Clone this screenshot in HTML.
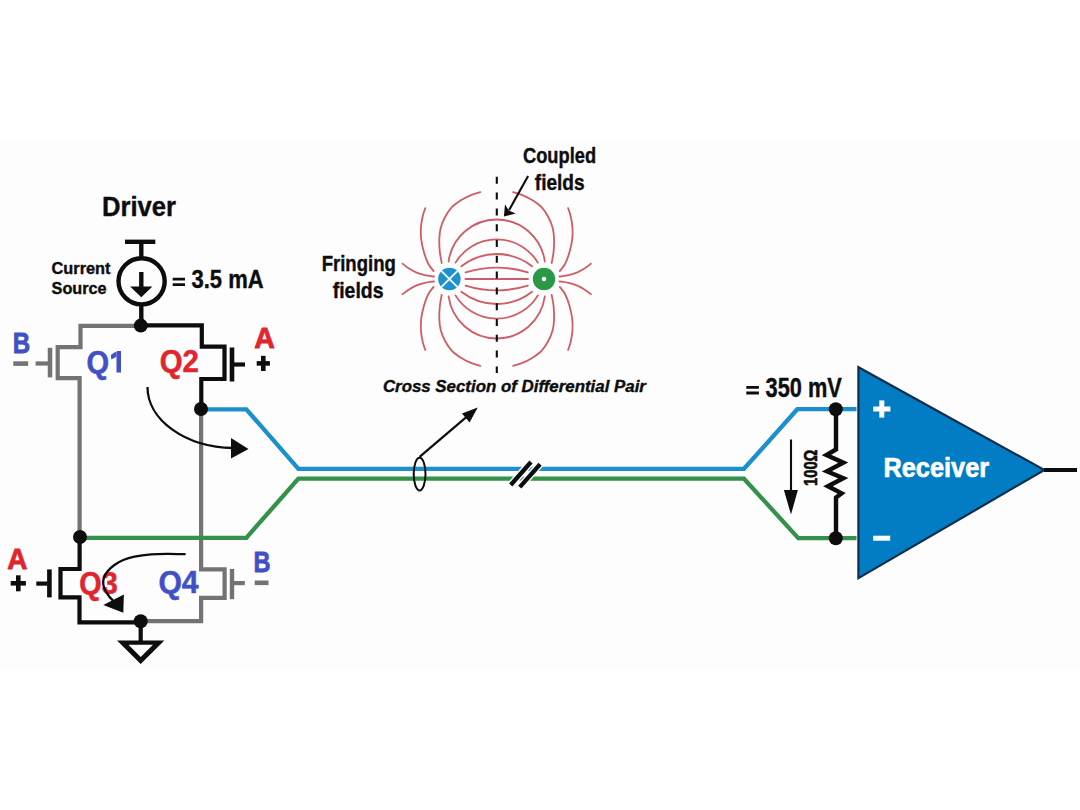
<!DOCTYPE html>
<html><head><meta charset="utf-8"><style>html,body{margin:0;padding:0;background:#fff;width:1080px;height:810px;overflow:hidden}svg{display:block}</style></head>
<body><svg width="1080" height="810" viewBox="0 0 1080 810">
<rect x="0" y="0" width="1080" height="810" fill="#ffffff"/>
<rect x="0" y="139" width="1080" height="531" fill="#fdfdfd"/>
<text x="101.9" y="215.9" font-family='"Liberation Sans", sans-serif' font-size="27" font-weight="bold" font-style="normal" fill="#0d0d0d" textLength="74.1" lengthAdjust="spacingAndGlyphs" stroke="#0d0d0d" stroke-width="0.4" stroke-linejoin="round" text-anchor="start" id="t_driver">Driver</text>
<text x="51.6" y="274.2" font-family='"Liberation Sans", sans-serif' font-size="16.8" font-weight="bold" font-style="normal" fill="#0d0d0d" textLength="58.9" lengthAdjust="spacingAndGlyphs" stroke="#0d0d0d" stroke-width="0.4" stroke-linejoin="round" text-anchor="start" id="t_current">Current</text>
<text x="51.6" y="294.2" font-family='"Liberation Sans", sans-serif' font-size="16.8" font-weight="bold" font-style="normal" fill="#0d0d0d" textLength="55" lengthAdjust="spacingAndGlyphs" stroke="#0d0d0d" stroke-width="0.4" stroke-linejoin="round" text-anchor="start" id="t_source">Source</text>
<path fill="#0d0d0d" d="M172.7,277.7 h12.3 v2.9 h-12.3 Z M172.7,283.2 h12.3 v2.9 h-12.3 Z"/>
<text x="191.5" y="288" font-family='"Liberation Sans", sans-serif' font-size="25.8" font-weight="bold" font-style="normal" fill="#0d0d0d" textLength="72.1" lengthAdjust="spacingAndGlyphs" stroke="#0d0d0d" stroke-width="0.4" stroke-linejoin="round" text-anchor="start" id="t_eq35">3.5 mA</text>
<g stroke="#0d0d0d" fill="none" stroke-width="4.4">
<line x1="125" y1="241.8" x2="155.3" y2="241.8"/>
<line x1="141.3" y1="241.8" x2="141.3" y2="259"/>
<circle cx="141.6" cy="281.3" r="23.1"/>
<line x1="141.3" y1="272" x2="141.3" y2="288"/>
<line x1="141.3" y1="303" x2="141.3" y2="326"/>
</g>
<polygon points="130.1,286.4 152.4,286.4 141.3,297.3" fill="#0d0d0d"/>
<g fill="none" stroke-linejoin="miter" stroke-linecap="butt" stroke-width="4.2">
<path stroke="#737373" d="M141,325.8 H80.5 V347.2 H57.7 V378.2 H79.6 V537"/>
<line stroke="#737373" x1="50" y1="347.8" x2="50" y2="377.4" stroke-width="4.5"/>
<line stroke="#737373" x1="35.6" y1="363.5" x2="48" y2="363.5"/>
<line stroke="#737373" x1="13.3" y1="363.6" x2="28.2" y2="363.6" stroke-width="4.6"/>
<path stroke="#0d0d0d" d="M141,325.3 H201.8 V346.6 H224.5 V379 H201.3 V409"/>
<line stroke="#0d0d0d" x1="232" y1="347.5" x2="232" y2="381.5" stroke-width="4.6"/>
<line stroke="#0d0d0d" x1="234" y1="364.5" x2="245" y2="364.5"/>
<line stroke="#0d0d0d" x1="256.7" y1="363.4" x2="269.9" y2="363.4" stroke-width="4.6"/>
<line stroke="#0d0d0d" x1="263.3" y1="355.8" x2="263.3" y2="371" stroke-width="4.6"/>
<path stroke="#737373" d="M201.1,409 V569.4 H224.6 V597.9 H201.1 V621.2 H141"/>
<line stroke="#737373" x1="232" y1="568.9" x2="232" y2="599.2" stroke-width="4.4"/>
<line stroke="#737373" x1="234" y1="583.1" x2="244.8" y2="583.1"/>
<line stroke="#737373" x1="254.7" y1="582.8" x2="268.5" y2="582.8" stroke-width="4.6"/>
<path stroke="#0d0d0d" d="M79.6,537 V569 H60.5 V597.4 H79.5 V622.3 H141"/>
<line stroke="#0d0d0d" x1="49.4" y1="569.4" x2="49.4" y2="597.4" stroke-width="4.6"/>
<line stroke="#0d0d0d" x1="36.3" y1="583.6" x2="47.5" y2="583.6"/>
<line stroke="#0d0d0d" x1="10.7" y1="583.3" x2="25.9" y2="583.3" stroke-width="4.6"/>
<line stroke="#0d0d0d" x1="18.3" y1="575.3" x2="18.3" y2="591.3" stroke-width="4.6"/>
<line stroke="#0d0d0d" x1="140.7" y1="621" x2="140.7" y2="642"/>
</g>
<path fill="#0d0d0d" fill-rule="evenodd" d="M117,640.4 H164.4 L140.7,664 Z M128.5,644.8 L140.7,657 L153,644.8 Z"/>
<g fill="none" stroke-width="4.3" stroke-linejoin="miter">
<path stroke="#1c8fcd" d="M201,409.3 H246.3 L298.4,468.8 H744 L797.3,409.2 H856.5"/>
<path stroke="#33914a" d="M80,537.8 H246.3 L298.4,478.7 H744 L798.3,538.2 H856.5"/>
</g>
<circle cx="140.8" cy="325.6" r="7" fill="#0d0d0d"/>
<circle cx="201" cy="409" r="7" fill="#0d0d0d"/>
<circle cx="80" cy="537" r="7" fill="#0d0d0d"/>
<circle cx="140.7" cy="621.3" r="7" fill="#0d0d0d"/>
<circle cx="835.8" cy="409.2" r="7" fill="#0d0d0d"/>
<circle cx="835.8" cy="538.3" r="7" fill="#0d0d0d"/>
<text x="12.8" y="353" font-family='"Liberation Sans", sans-serif' font-size="29" font-weight="bold" font-style="normal" fill="#4150c7" textLength="17.4" lengthAdjust="spacingAndGlyphs" stroke="#4150c7" stroke-width="0.8" stroke-linejoin="round" text-anchor="start" id="t_B1">B</text>
<text x="86.4" y="372.6" font-family='"Liberation Sans", sans-serif' font-size="30.5" font-weight="bold" font-style="normal" fill="#4150c7" textLength="22.6" lengthAdjust="spacingAndGlyphs" stroke="#4150c7" stroke-width="0.5" stroke-linejoin="round" text-anchor="start" id="t_Q1">Q</text>
<path id="t_one" fill="#4150c7" d="M116.5,372.6 V351 H121 V372.6 Z M116.8,351 L110.8,355.1 L111.4,359.6 L116.8,356.4 Z"/>
<text x="159.7" y="371.9" font-family='"Liberation Sans", sans-serif' font-size="30.5" font-weight="bold" font-style="normal" fill="#e0252f" textLength="39.2" lengthAdjust="spacingAndGlyphs" stroke="#e0252f" stroke-width="0.5" stroke-linejoin="round" text-anchor="start" id="t_Q2">Q2</text>
<text x="254.2" y="348.1" font-family='"Liberation Sans", sans-serif' font-size="30" font-weight="bold" font-style="normal" fill="#e0252f" textLength="20.6" lengthAdjust="spacingAndGlyphs" stroke="#e0252f" stroke-width="0.8" stroke-linejoin="round" text-anchor="start" id="t_A1">A</text>
<text x="7.2" y="568.8" font-family='"Liberation Sans", sans-serif' font-size="30" font-weight="bold" font-style="normal" fill="#e0252f" textLength="20.2" lengthAdjust="spacingAndGlyphs" stroke="#e0252f" stroke-width="0.8" stroke-linejoin="round" text-anchor="start" id="t_A2">A</text>
<text x="79.3" y="593.8" font-family='"Liberation Sans", sans-serif' font-size="30.5" font-weight="bold" font-style="normal" fill="#e0252f" textLength="38.4" lengthAdjust="spacingAndGlyphs" stroke="#e0252f" stroke-width="0.5" stroke-linejoin="round" text-anchor="start" id="t_Q3">Q3</text>
<text x="158.4" y="593.4" font-family='"Liberation Sans", sans-serif' font-size="30.5" font-weight="bold" font-style="normal" fill="#4150c7" textLength="40.2" lengthAdjust="spacingAndGlyphs" stroke="#4150c7" stroke-width="0.5" stroke-linejoin="round" text-anchor="start" id="t_Q4">Q4</text>
<text x="253.6" y="572.1" font-family='"Liberation Sans", sans-serif' font-size="29" font-weight="bold" font-style="normal" fill="#4150c7" textLength="17" lengthAdjust="spacingAndGlyphs" stroke="#4150c7" stroke-width="0.8" stroke-linejoin="round" text-anchor="start" id="t_B2">B</text>
<path fill="none" stroke="#0d0d0d" stroke-width="2.3" d="M147.5,387 A87.5,61 0 0 0 233,448"/>
<polygon fill="#0d0d0d" points="231,438 231,458.5 248.5,449"/>
<path fill="none" stroke="#0d0d0d" stroke-width="2.3" d="M185.6,554.2 C182.63,554.15 173.55,553.87 167.8,553.9 C162.05,553.93 156.67,553.93 151.1,554.4 C145.53,554.87 139.03,555.77 134.4,556.7 C129.77,557.63 126.63,558.62 123.3,560 C119.97,561.38 116.98,563.15 114.4,565 C111.82,566.85 109.55,568.97 107.8,571.1 C106.05,573.23 104.65,575.58 103.9,577.8 C103.15,580.02 103.02,582.18 103.3,584.4 C103.58,586.62 104.58,589.05 105.6,591.1 C106.62,593.15 108.17,595.13 109.4,596.7 C110.63,598.27 112.4,599.87 113,600.5"/>
<polygon fill="#0d0d0d" points="103.3,605 123.9,594.4 123.3,612.8"/>
<g fill="none" stroke="#cf5c66" stroke-width="1.8" stroke-linecap="round"><path d="M465.62,272.42 A104.65,104.65 0 0 1 527.78,272.42"/><path d="M465.62,285.58 A104.65,104.65 0 0 0 527.78,285.58"/><path d="M461.35,266.22 A57.25,57.25 0 0 1 532.05,266.22"/><path d="M461.35,291.78 A57.25,57.25 0 0 0 532.05,291.78"/><path d="M455.52,262.61 A48.03,48.03 0 0 1 537.88,262.61"/><path d="M455.52,295.39 A48.03,48.03 0 0 0 537.88,295.39"/><path d="M448.59,261.52 A48.55,48.55 0 0 1 544.81,261.52"/><path d="M448.59,296.48 A48.55,48.55 0 0 0 544.81,296.48"/><line x1="465.4" y1="279.0" x2="528" y2="279.0"/><path d="M433.95,276.5 C432.41,276.27 427.69,275.8 424.7,275.1 C421.71,274.4 418.68,273.43 416,272.3 C413.32,271.17 410.85,269.73 408.6,268.3 C406.35,266.87 403.52,264.47 402.5,263.7"/><path d="M433.95,281.5 C432.41,281.73 427.69,282.2 424.7,282.9 C421.71,283.6 418.68,284.57 416,285.7 C413.32,286.83 410.85,288.27 408.6,289.7 C406.35,291.13 403.52,293.53 402.5,294.3"/><path d="M559.45,276.5 C560.99,276.27 565.71,275.8 568.7,275.1 C571.69,274.4 574.72,273.43 577.4,272.3 C580.08,271.17 582.55,269.73 584.8,268.3 C587.05,266.87 589.88,264.47 590.9,263.7"/><path d="M559.45,281.5 C560.99,281.73 565.71,282.2 568.7,282.9 C571.69,283.6 574.72,284.57 577.4,285.7 C580.08,286.83 582.55,288.27 584.8,289.7 C587.05,291.13 589.88,293.53 590.9,294.3"/><path d="M433.6,271.1 C432.73,269.92 429.98,267.05 428.4,264 C426.82,260.95 425.3,256.92 424.1,252.8 C422.9,248.68 421.72,243.62 421.2,239.3 C420.68,234.98 420.73,230.82 421,226.9 C421.27,222.98 422.08,218.93 422.8,215.8 C423.52,212.67 424.88,209.38 425.3,208.1"/><path d="M433.6,286.9 C432.73,288.08 429.98,290.95 428.4,294 C426.82,297.05 425.3,301.08 424.1,305.2 C422.9,309.32 421.72,314.38 421.2,318.7 C420.68,323.02 420.73,327.18 421,331.1 C421.27,335.02 422.08,339.07 422.8,342.2 C423.52,345.33 424.88,348.62 425.3,349.9"/><path d="M559.8,271.1 C560.67,269.92 563.42,267.05 565,264 C566.58,260.95 568.1,256.92 569.3,252.8 C570.5,248.68 571.68,243.62 572.2,239.3 C572.72,234.98 572.67,230.82 572.4,226.9 C572.13,222.98 571.32,218.93 570.6,215.8 C569.88,212.67 568.52,209.38 568.1,208.1"/><path d="M559.8,286.9 C560.67,288.08 563.42,290.95 565,294 C566.58,297.05 568.1,301.08 569.3,305.2 C570.5,309.32 571.68,314.38 572.2,318.7 C572.72,323.02 572.67,327.18 572.4,331.1 C572.13,335.02 571.32,339.07 570.6,342.2 C569.88,345.33 568.52,348.62 568.1,349.9"/><path d="M441.7,263 C441.38,261.1 440.2,255.55 439.8,251.6 C439.4,247.65 439.15,243.22 439.3,239.3 C439.45,235.38 439.73,231.82 440.7,228.1 C441.67,224.38 443.23,220.48 445.1,217 C446.97,213.52 449.13,210.07 451.9,207.2 C454.67,204.33 458.42,201.87 461.7,199.8 C464.98,197.73 468.52,196.08 471.6,194.8 C474.68,193.52 478.77,192.55 480.2,192.1"/><path d="M441.7,295 C441.38,296.9 440.2,302.45 439.8,306.4 C439.4,310.35 439.15,314.78 439.3,318.7 C439.45,322.62 439.73,326.18 440.7,329.9 C441.67,333.62 443.23,337.52 445.1,341 C446.97,344.48 449.13,347.93 451.9,350.8 C454.67,353.67 458.42,356.13 461.7,358.2 C464.98,360.27 468.52,361.92 471.6,363.2 C474.68,364.48 478.77,365.45 480.2,365.9"/><path d="M551.7,263 C552.02,261.1 553.2,255.55 553.6,251.6 C554,247.65 554.25,243.22 554.1,239.3 C553.95,235.38 553.67,231.82 552.7,228.1 C551.73,224.38 550.17,220.48 548.3,217 C546.43,213.52 544.27,210.07 541.5,207.2 C538.73,204.33 534.98,201.87 531.7,199.8 C528.42,197.73 524.88,196.08 521.8,194.8 C518.72,193.52 514.63,192.55 513.2,192.1"/><path d="M551.7,295 C552.02,296.9 553.2,302.45 553.6,306.4 C554,310.35 554.25,314.78 554.1,318.7 C553.95,322.62 553.67,326.18 552.7,329.9 C551.73,333.62 550.17,337.52 548.3,341 C546.43,344.48 544.27,347.93 541.5,350.8 C538.73,353.67 534.98,356.13 531.7,358.2 C528.42,360.27 524.88,361.92 521.8,363.2 C518.72,364.48 514.63,365.45 513.2,365.9"/></g>
<circle cx="449.4" cy="279.0" r="13" fill="#ffffff"/>
<circle cx="544.0" cy="279.0" r="13" fill="#ffffff"/>
<circle cx="449.4" cy="279.0" r="11.2" fill="#1e8fd1"/>
<g stroke="#eafaff" stroke-width="2"><line x1="441.5" y1="271.1" x2="457.3" y2="286.9"/><line x1="441.5" y1="286.9" x2="457.3" y2="271.1"/></g>
<circle cx="544.0" cy="279.0" r="11.2" fill="#2a9946"/>
<circle cx="544.0" cy="279.0" r="2.3" fill="#ffffff"/>
<line x1="496.8" y1="176.8" x2="496.8" y2="373" stroke="#0d0d0d" stroke-width="2.1" stroke-dasharray="7 8.8"/>
<line x1="528.1" y1="176.1" x2="509" y2="210.2" stroke="#0d0d0d" stroke-width="2.1"/>
<polygon fill="#0d0d0d" points="503.9,216.5 505,204.3 508.7,210.6 515.7,213.5"/>
<text x="523" y="163.3" font-family='"Liberation Sans", sans-serif' font-size="22.3" font-weight="bold" font-style="normal" fill="#0d0d0d" textLength="73.1" lengthAdjust="spacingAndGlyphs" stroke="#0d0d0d" stroke-width="0.4" stroke-linejoin="round" text-anchor="start" id="t_coupled">Coupled</text>
<text x="534.8" y="189.8" font-family='"Liberation Sans", sans-serif' font-size="22.3" font-weight="bold" font-style="normal" fill="#0d0d0d" textLength="49.8" lengthAdjust="spacingAndGlyphs" stroke="#0d0d0d" stroke-width="0.4" stroke-linejoin="round" text-anchor="start" id="t_fields1">fields</text>
<text x="321.7" y="270.8" font-family='"Liberation Sans", sans-serif' font-size="22.3" font-weight="bold" font-style="normal" fill="#0d0d0d" textLength="74.1" lengthAdjust="spacingAndGlyphs" stroke="#0d0d0d" stroke-width="0.4" stroke-linejoin="round" text-anchor="start" id="t_fringing">Fringing</text>
<text x="332.7" y="297.7" font-family='"Liberation Sans", sans-serif' font-size="22.3" font-weight="bold" font-style="normal" fill="#0d0d0d" textLength="50.8" lengthAdjust="spacingAndGlyphs" stroke="#0d0d0d" stroke-width="0.4" stroke-linejoin="round" text-anchor="start" id="t_fields2">fields</text>
<text x="382.9" y="391.6" font-family='"Liberation Sans", sans-serif' font-size="16.8" font-weight="bold" font-style="italic" fill="#0d0d0d" textLength="263" lengthAdjust="spacingAndGlyphs" stroke="#0d0d0d" stroke-width="0.4" stroke-linejoin="round" text-anchor="start" id="t_cross">Cross Section of Differential Pair</text>
<ellipse cx="419.6" cy="474.1" rx="5.9" ry="16.4" fill="none" stroke="#0d0d0d" stroke-width="2"/>
<line x1="419.6" y1="456.8" x2="466" y2="417.3" stroke="#0d0d0d" stroke-width="2.2"/>
<polygon fill="#0d0d0d" points="477.7,407.4 462,413.5 469.6,422.6"/>
<g stroke-linecap="butt">
<line x1="510.7" y1="485" x2="531" y2="462" stroke="#ffffff" stroke-width="7.2"/>
<line x1="519.8" y1="487.1" x2="540.1" y2="464.2" stroke="#ffffff" stroke-width="7.2"/>
<line x1="510.7" y1="485" x2="531" y2="462" stroke="#0d0d0d" stroke-width="4.3"/>
<line x1="519.8" y1="487.1" x2="540.1" y2="464.2" stroke="#0d0d0d" stroke-width="4.3"/>
</g>
<path fill="#0d0d0d" d="M746.3,385.9 h12.6 v2.9 h-12.6 Z M746.3,391.6 h12.6 v2.9 h-12.6 Z"/>
<text x="765.6" y="396.8" font-family='"Liberation Sans", sans-serif' font-size="28.3" font-weight="bold" font-style="normal" fill="#0d0d0d" textLength="76.3" lengthAdjust="spacingAndGlyphs" stroke="#0d0d0d" stroke-width="0.4" stroke-linejoin="round" text-anchor="start" id="t_eq350">350 mV</text>
<polygon points="858.4,367.2 858.4,578.1 1044.4,470" fill="#027cc3" stroke="#0c2f4f" stroke-width="2.2"/>
<line x1="1044" y1="470" x2="1077" y2="470" stroke="#0d0d0d" stroke-width="4.2"/>
<g stroke="#ffffff" stroke-width="5"><line x1="873.2" y1="409" x2="890.4" y2="409"/><line x1="881.8" y1="400.4" x2="881.8" y2="417.6"/><line x1="873.2" y1="538.2" x2="890.2" y2="538.2"/></g>
<text x="883.4" y="477.1" font-family='"Liberation Sans", sans-serif' font-size="28.4" font-weight="bold" font-style="normal" fill="#ffffff" textLength="105.8" lengthAdjust="spacingAndGlyphs" stroke="#ffffff" stroke-width="0.7" stroke-linejoin="round" text-anchor="start" id="t_receiver">Receiver</text>
<path fill="none" stroke="#0d0d0d" stroke-width="4.4" stroke-linejoin="miter" stroke-miterlimit="10" d="M836,409 V449.5 L826.5,455.0 L843.3,462.7 L826.9,471.3 L843.3,478.3 L827.9,486.3 L841.6,493.3 L836,497.5 V538.3"/>
<text id="t_ohm" transform="translate(817.2,486) rotate(-90)" x="0" y="0" font-family='"Liberation Sans", sans-serif' font-size="17.6" font-weight="bold" fill="#0d0d0d" stroke="#0d0d0d" stroke-width="0.6" textLength="36.4" lengthAdjust="spacingAndGlyphs">100&#937;</text>
<line x1="791" y1="439.5" x2="791" y2="495" stroke="#0d0d0d" stroke-width="2.1"/>
<polygon fill="#0d0d0d" points="783.9,489.9 797.9,489.9 791,514.6"/>
</svg></body></html>
